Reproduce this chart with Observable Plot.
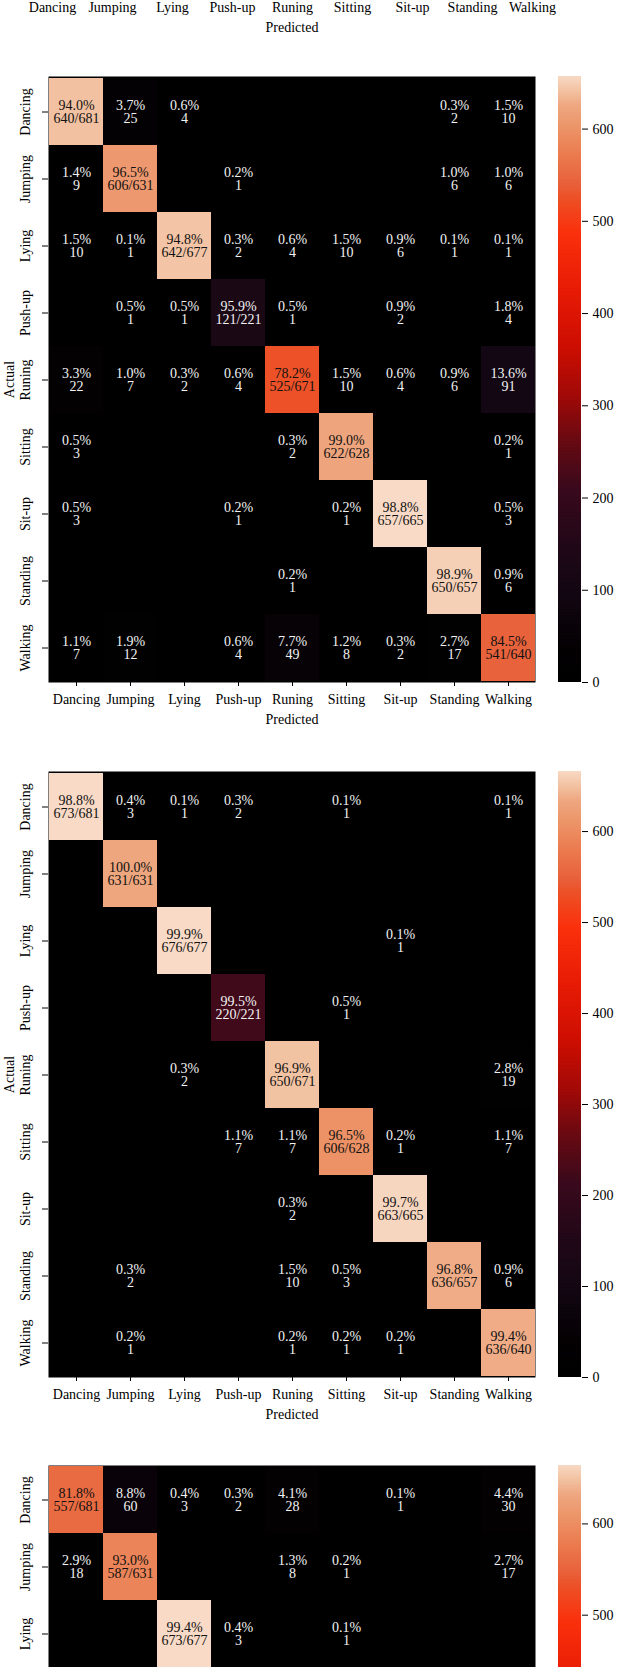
<!DOCTYPE html>
<html><head><meta charset="utf-8">
<script src="https://cdn.jsdelivr.net/npm/d3@7"></script>
<script src="https://cdn.jsdelivr.net/npm/@observablehq/plot@0.6"></script>
<style>
body{margin:0;background:#fff;}
#page{position:relative;width:618px;height:1667px;overflow:hidden;background:#fff;}
#page > svg{position:absolute;}
</style></head><body><div id="page"></div>
<script>
// ---- data ----
const classes = ["Dancing","Jumping","Lying","Push-up","Runing","Sitting","Sit-up","Standing","Walking"];
const rowTotals = [681,631,677,221,671,628,665,657,640];

// second matrix (first fully visible)
const countsB = [
  [640,25,4,0,0,0,0,2,10],
  [9,606,0,1,0,0,0,6,6],
  [10,1,642,2,4,10,6,1,1],
  [0,1,1,121,1,0,2,0,4],
  [22,7,2,4,525,10,4,6,91],
  [3,0,0,0,2,622,0,0,1],
  [3,0,0,1,0,1,657,0,3],
  [0,0,0,0,1,0,0,650,6],
  [7,12,0,4,49,8,2,17,541]
];
const diagPctB = [94.0,96.5,94.8,95.9,78.2,99.0,98.8,98.9,84.5];
const colorMaxB = 657;

// third matrix
const countsC = [
  [673,3,1,2,0,1,0,0,1],
  [0,631,0,0,0,0,0,0,0],
  [0,0,676,0,0,0,1,0,0],
  [0,0,0,220,0,1,0,0,0],
  [0,0,2,0,650,0,0,0,19],
  [0,0,0,7,7,606,1,0,7],
  [0,0,0,0,2,0,663,0,0],
  [0,2,0,0,10,3,0,636,6],
  [0,1,0,0,1,1,1,0,636]
];
const diagPctC = [98.8,100.0,99.9,99.5,96.9,96.5,99.7,96.8,99.4];
const colorMaxC = 666;

// fourth matrix (only the first rows are visible)
const countsD = [
  [557,60,3,2,28,0,1,0,30],
  [18,587,0,0,8,1,0,0,17],
  [0,0,673,3,0,1,0,0,0]
];
const diagPctD = [81.8,93.0,99.4];
const colorMaxD = 664;

const colorbarTicks = [0,100,200,300,400,500,600];
const colorStops = [0,0.07,0.14,0.22,0.32,0.40,0.47,0.55,0.65,0.74,0.80,0.82,0.87,0.91,0.95,0.975,1];
const colorHex = ["#000000","#060205","#120712","#200818","#3a0a1c","#6a0a12","#a00a08","#cc0e02","#e81c05","#fa300c","#ec5228","#e8603a","#eb7c50","#ec9266","#eea780","#f2c2a2","#f8dac6"];

// ---- helpers ----
const heatInterp = (t) => {
  t = Math.max(0, Math.min(1, t));
  let i = 1;
  while (i < colorStops.length - 1 && t > colorStops[i]) i++;
  const a = colorStops[i-1], b = colorStops[i];
  return d3.interpolateRgb(colorHex[i-1], colorHex[i])((t - a) / (b - a));
};
function pct1(v) {
  const x = v * 10, f = Math.floor(x);
  let r = Math.abs(x - f - 0.5) < 1e-9 ? (f % 2 === 0 ? f : f + 1) : Math.round(x);
  return (r / 10).toFixed(1);
}
const FONT = "'Liberation Serif', 'Times New Roman', serif";
const page = document.getElementById("page");
const MATRIX_H = 606, MT = 4, MB = 52;

function colorOpt(cmax) {
  return {type: "linear", domain: [0, cmax], interpolate: (t) => heatInterp(t), clamp: true};
}
function xAxis() {
  return Plot.axisX({anchor: "bottom", tickSize: 4, tickPadding: 8, fontSize: 14,
    label: "Predicted", labelAnchor: "center", labelArrow: "none", labelOffset: 41});
}

function heatmap(counts, diagPct, cmax, top) {
  const complete = counts.length === classes.length;   // a matrix cut by the page edge shows only its first rows
  const shownClasses = classes.slice(0, counts.length);
  const data = [];
  counts.forEach((row, i) => row.forEach((c, j) => {
    let label = "";
    if (i === j) label = `${diagPct[i].toFixed(1)}%\n${c}/${rowTotals[i]}`;
    else if (c > 0) label = `${pct1(c / rowTotals[i] * 100)}%\n${c}`;
    data.push({actual: classes[i], pred: classes[j], count: c, label, dark: (i === j && c / cmax > 0.5)});
  }));
  const rowH = MATRIX_H / classes.length;
  const visibleH = complete ? MATRIX_H : rowH * counts.length;
  const marks = [
    Plot.frame({fill: "black"}),
    Plot.cell(data, {x: "pred", y: "actual", fill: "count", inset: 0}),
    Plot.text(data.filter(d => d.label && d.dark), {x: "pred", y: "actual", text: "label", fill: "#111", fontSize: 14, lineHeight: 0.92}),
    Plot.text(data.filter(d => d.label && !d.dark), {x: "pred", y: "actual", text: "label", fill: "#f2f2f2", fontSize: 14, lineHeight: 0.92}),
    Plot.axisY({anchor: "left", tickSize: 6, tickPadding: 13, tickRotate: -90, fontSize: 14,
      label: complete ? "Actual" : null, labelAnchor: "center", labelArrow: "none", labelOffset: 44})
  ];
  if (complete) marks.push(xAxis());
  const svg = Plot.plot({
    width: 618, height: complete ? MT + MATRIX_H + MB : MT + visibleH,
    marginTop: MT, marginBottom: complete ? MB : 0, marginLeft: 48, marginRight: 83,
    style: {fontFamily: FONT, fontSize: "14px", background: "transparent", color: "black", overflow: "hidden"},
    x: {domain: classes, padding: 0, axis: null},
    y: {domain: shownClasses, padding: 0, axis: null},
    color: colorOpt(cmax),
    marks
  });
  svg.style.left = "0px";
  svg.style.top = (top - MT) + "px";
  page.appendChild(svg);

  // colour bar: same scale, full matrix height; only the visible part is drawn when cut
  const pxPerUnit = MATRIX_H / cmax;
  const lowest = complete ? 0 : cmax - visibleH / pxPerUnit;
  const step = cmax / 400;
  const steps = d3.range(lowest, cmax, step);
  const ticks = complete ? colorbarTicks : colorbarTicks.filter(v => v >= lowest + 8);
  const cb = Plot.plot({
    width: 60, height: MT + visibleH + (complete ? MB : 0),
    marginTop: MT, marginBottom: complete ? MB : 0, marginLeft: 0, marginRight: 37,
    style: {fontFamily: FONT, fontSize: "14px", background: "transparent", color: "black"},
    y: {domain: [lowest, cmax], axis: null},
    color: colorOpt(cmax),
    marks: [
      Plot.rect(steps, {y1: d => d, y2: d => Math.min(cmax, d + step * 1.6), fill: d => d}),
      Plot.axisY({anchor: "right", ticks, tickSize: 6, tickPadding: 5, fontSize: 14, label: null})
    ]
  });
  cb.style.left = "558px";
  cb.style.top = (top - MT) + "px";
  page.appendChild(cb);
}

// ---- layout ----
const tops = [76, 770.5, 1465];
const period = tops[1] - tops[0];

// the bottom of the matrix above (only its x axis is visible)
const prevBottom = tops[0] - period + MATRIX_H + 2;
const strip = Plot.plot({
  width: 618, height: 10 + MB, marginTop: 0, marginBottom: MB, marginLeft: 48, marginRight: 83,
  style: {fontFamily: FONT, fontSize: "14px", background: "transparent", color: "black"},
  x: {domain: classes, padding: 0, axis: null},
  marks: [xAxis()]
});
strip.style.left = "0px";
strip.style.top = (prevBottom - 10) + "px";
page.appendChild(strip);

heatmap(countsB, diagPctB, colorMaxB, tops[0]);
heatmap(countsC, diagPctC, colorMaxC, tops[1]);
heatmap(countsD, diagPctD, colorMaxD, tops[2]);
</script></body></html>
